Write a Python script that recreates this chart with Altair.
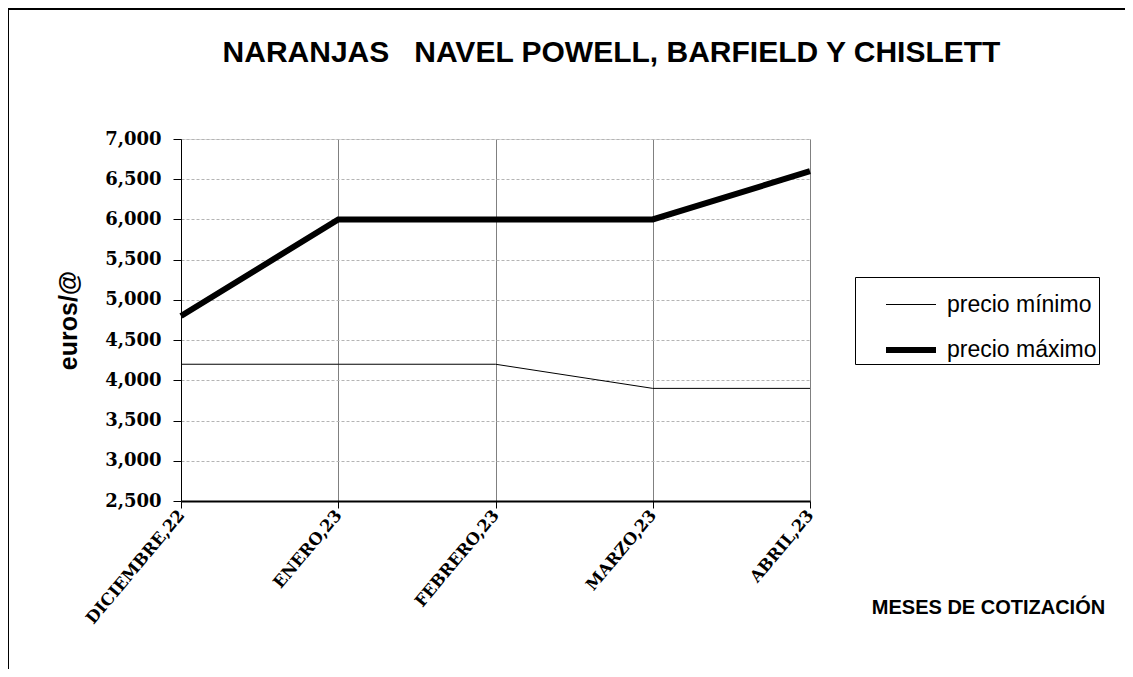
import altair as alt
import pandas as pd

months = ["DICIEMBRE,22", "ENERO,23", "FEBRERO,23", "MARZO,23", "ABRIL,23"]
precio_min = [4.2, 4.2, 4.2, 3.9, 3.9]
precio_max = [4.8, 6.0, 6.0, 6.0, 6.6]
series = ["precio mínimo", "precio máximo"]
y_ticks = [2.5, 3.0, 3.5, 4.0, 4.5, 5.0, 5.5, 6.0, 6.5, 7.0]

rows = []
for i, m in enumerate(months):
    rows.append({"mes": m, "serie": series[0], "valor": precio_min[i], "orden": i})
    rows.append({"mes": m, "serie": series[1], "valor": precio_max[i], "orden": i})
df = pd.DataFrame(rows)

W, H = 629, 362

lines = alt.Chart(df).mark_line(color="black", strokeCap="butt").encode(
    x=alt.X("mes:N", sort=months,
            scale=alt.Scale(type="point", padding=0),
            axis=alt.Axis(title="MESES DE COTIZACIÓN", labelAngle=-50,
                          labelFont="DejaVu Serif", labelFontWeight="bold",
                          labelFontSize=16.5, labelColor="black",
                          labelPadding=4,
                          domainColor="black", domainWidth=2,
                          tickColor="black", tickSize=7,
                          grid=True, gridColor="#808080", gridWidth=1,
                          titleFont="Liberation Sans", titleFontWeight="bold",
                          titleFontSize=20, titleColor="black",
                          titleX=807, titleY=106, titleAlign="center",
                          titleBaseline="middle")),
    y=alt.Y("valor:Q", scale=alt.Scale(domain=[2.5, 7.0], nice=False, zero=False),
            axis=alt.Axis(title="euros/@", values=y_ticks,
                          labelExpr="replace(format(datum.value, '.3f'), '.', ',')",
                          labelFont="DejaVu Serif", labelFontWeight="bold",
                          labelFontSize=18, labelColor="black", labelPadding=12,
                          domainColor="black", domainWidth=1,
                          tickColor="black", tickSize=8,
                          grid=True, gridColor="#b4b4b4", gridDash=[3, 2],
                          gridWidth=1,
                          titleFont="Liberation Sans", titleFontWeight="bold",
                          titleFontSize=25, titleColor="black",
                          titleAngle=-90, titleX=-113, titleY=181,
                          titleAlign="center", titleBaseline="middle")),
    strokeWidth=alt.StrokeWidth("serie:N", sort=series,
                                scale=alt.Scale(domain=series, range=[1, 6]),
                                legend=alt.Legend(title=None, orient="none",
                                                  legendX=674, legendY=138,
                                                  symbolType="stroke",
                                                  symbolSize=2500,
                                                  symbolStrokeColor="black",
                                                  symbolOffset=26,
                                                  labelFont="Liberation Sans",
                                                  labelFontSize=23,
                                                  labelColor="black",
                                                  labelOffset=8,
                                                  rowPadding=5,
                                                  padding=2,
                                                  strokeColor="black",
                                                  fillColor="white")),
    detail="serie:N",
    order="orden:Q",
)

frame_df = pd.DataFrame({"k": [0]})
frame_top = alt.Chart(frame_df).mark_rule(color="black", strokeWidth=2).encode(
    x=alt.value(-173), x2=alt.value(W + 320), y=alt.value(-130))
frame_left = alt.Chart(frame_df).mark_rule(color="black", strokeWidth=2).encode(
    x=alt.value(-173), y=alt.value(-130), y2=alt.value(H + 200))

title_text = "NARANJAS\u00a0\u00a0\u00a0NAVEL POWELL, BARFIELD Y CHISLETT"

chart = alt.layer(frame_top, frame_left, lines).properties(
    width=W, height=H,
    title=alt.TitleParams(title_text,
                          font="Liberation Sans", fontWeight="bold",
                          fontSize=30, color="black", anchor="middle",
                          baseline="alphabetic",
                          dx=116, offset=-84),
    autosize=alt.AutoSizeParams(type="none"),
    padding={"left": 173, "top": 131, "right": 315, "bottom": 168},
).configure_view(stroke=None).configure(background="white")

chart.save("out.html", embed_options={"renderer": "svg", "actions": False})
